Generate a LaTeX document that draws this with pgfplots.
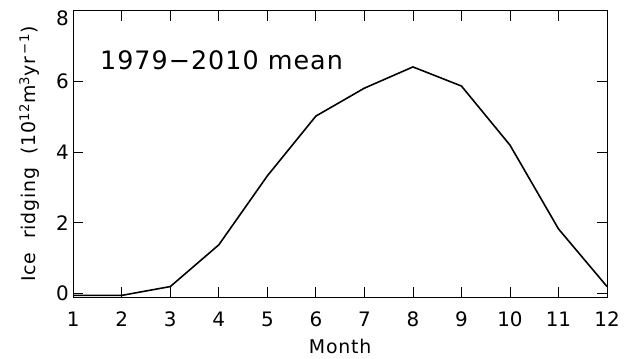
\documentclass[border=0pt]{standalone}
\usepackage{pgfplots}
\pgfplotsset{compat=1.18}
\usepackage{fontspec}
\setmainfont{DejaVu Sans}
\newfontfamily\widefont{DejaVu Sans}[LetterSpace=4]
\begin{document}
\begin{tikzpicture}[x=1bp,y=1bp]
\begin{axis}[
  name=ax,
  scale only axis,
  width=534bp, height=286.6bp,
  xmin=1, xmax=12, ymin=-0.1, ymax=8,
  xtick={1,...,12}, ytick={0,2,4,6,8},
  yticklabels={0,2,4,6,\raisebox{-8bp}[\height][\depth]{8}},
  tick align=inside,
  major tick length=10bp,
  tick style={line width=0.8pt, color=black},
  axis line style={line width=0.8pt},
  /pgf/number format/assume math mode=true,
  ticklabel style={font=\fontsize{20}{24}\selectfont},
  xticklabel style={yshift=-11bp},
  yticklabel style={xshift=-1bp},
  xlabel={Month},
  ylabel={Ice\ \ ridging\ \ (10\textsuperscript{12}m\textsuperscript{3}yr\textsuperscript{\,−1})},
  label style={font=\widefont\fontsize{19}{22}\selectfont},
  xlabel style={yshift=-6bp},
  ylabel style={yshift=10bp},
]
\addplot[black, line width=1.6pt] coordinates {
 (1,-0.05) (2,-0.05) (3,0.2) (4,1.38) (5,3.33) (6,5.02) (7,5.81) (8,6.41) (9,5.87) (10,4.2) (11,1.83) (12,0.2)
};
\node[anchor=west, font=\widefont\fontsize{25.5}{28}\selectfont, inner sep=0pt] at (axis cs:1.55,6.6) {1979−2010\ mean};
\end{axis}
\pgfresetboundingbox
\path (ax.south west) ++(-73.3bp,-61.7bp) coordinate (bl);
\path (ax.north east) ++(21bp,10.7bp) coordinate (tr);
\path[use as bounding box] (bl) rectangle (tr);
\end{tikzpicture}
\end{document}
